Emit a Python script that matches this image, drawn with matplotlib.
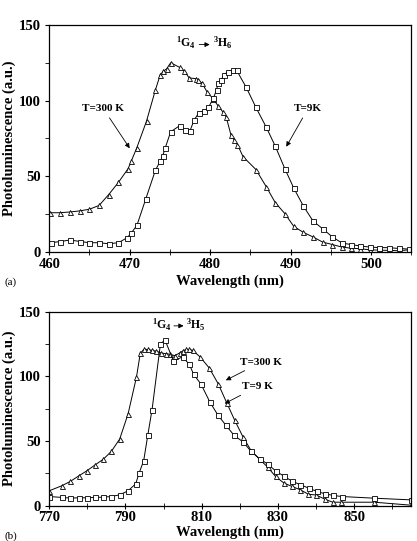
import numpy as np
import matplotlib
matplotlib.use("Agg")
import matplotlib.pyplot as plt
from matplotlib.ticker import MultipleLocator

plt.rcParams['font.family'] = 'Liberation Serif'
plt.rcParams['font.weight'] = 'bold'
plt.rcParams['mathtext.fontset'] = 'custom'
plt.rcParams['mathtext.rm'] = 'Liberation Serif:bold'
plt.rcParams['mathtext.it'] = 'Liberation Serif:bold'
plt.rcParams['mathtext.bf'] = 'Liberation Serif:bold'

# (a) 1G4 -> 3H6 band
wl_a_300 = [460.1, 461.3, 462.6, 463.8, 465.0, 466.2, 467.4, 468.6, 469.8, 470.2, 470.9,
            472.1, 473.2, 473.8, 474.2, 474.6, 475.1, 476.2, 476.8, 477.4, 478.2, 478.5,
            479.0, 479.6, 480.4, 481.0, 481.6, 482.0, 482.6, 483.0, 483.4, 484.1, 485.7,
            487.0, 488.1, 489.3, 490.4, 491.6, 492.8, 494.0, 495.2, 496.4, 497.5, 498.7,
            499.9, 501.1, 502.3, 503.5, 504.7]
pl_a_300 = [26, 26, 26.5, 27.2, 28.3, 30.8, 38, 46, 55, 60, 69,
            86.5, 107, 117, 119.5, 121, 125, 122, 119.5, 115, 114.5, 113.5,
            111.5, 106, 101, 96.5, 92.5, 89.3, 77.2, 74, 71, 63, 54.5,
            43, 32.7, 25.4, 17, 13, 10, 6.6, 5, 3.3, 2.6, 2.2,
            1.5, 1.3, 1.1, 0.9, 1.5]
wl_a_9 = [460.2, 461.4, 462.6, 463.8, 465.0, 466.2, 467.4, 468.6, 469.7, 470.2, 470.9,
          472.0, 473.2, 473.8, 474.1, 474.4, 475.1, 476.2, 476.9, 477.5, 478.0, 478.6,
          479.2, 479.8, 480.4, 480.8, 481.0, 481.4, 481.7, 482.2, 482.8, 483.3, 484.5,
          485.7, 487.0, 488.1, 489.3, 490.4, 491.6, 492.8, 494.0, 495.2, 496.4, 497.5,
          498.7, 499.9, 501.0, 502.3, 503.5, 504.7]
pl_a_9 = [6.2, 7, 8, 7, 6.2, 6.2, 5.5, 6.2, 9.5, 12.6, 17.6,
          35, 54, 60, 63.3, 68.4, 79.4, 83.4, 80.5, 80, 87, 92,
          93, 95.5, 101.5, 107, 111.4, 113.6, 117, 119, 120, 120, 108.7,
          95.5, 82.3, 70, 55, 42.3, 30.4, 20.5, 15.4, 10, 6, 5,
          4, 3.3, 3, 2.9, 2.4, 2]

# (b) 1G4 -> 3H5 band
wl_b_300 = [770.0, 773.3, 775.5, 777.7, 779.8, 782.0, 784.2, 786.3, 788.5, 790.7, 792.9,
            793.9, 794.8, 795.9, 797.0, 798.1, 799.4, 800.7, 801.7, 802.9, 804.2, 805.0,
            805.9, 806.8, 807.7, 809.6, 812.0, 814.4, 816.6, 818.7, 820.9, 823.0, 825.2,
            827.3, 829.4, 831.6, 833.7, 835.9, 838.0, 840.1, 842.3, 844.4, 846.6, 855.3,
            865.0]
pl_b_300 = [11.6, 15.5, 18.8, 23, 26.9, 31.5, 36, 42, 51.6, 71, 99.4,
            117.7, 120.8, 120.8, 120, 119.5, 118, 117.5, 117, 116, 118, 119.5,
            120.8, 120.8, 120, 115, 106.5, 94, 79.5, 66, 53, 42.6, 36,
            30, 22.7, 17.6, 15, 12.4, 9, 8.3, 5.2, 2.8, 2.8, 2.8,
            0.5]
wl_b_9 = [770.0, 773.3, 775.5, 777.7, 779.8, 782.0, 784.2, 786.3, 788.5, 790.7, 792.7,
          793.6, 794.8, 795.9, 797.0, 799.2, 800.4, 802.6, 805.0, 806.8, 807.9, 809.8,
          812.2, 814.3, 816.3, 818.5, 820.9, 823.0, 825.2, 827.3, 829.4, 831.7, 833.7,
          835.9, 838.1, 840.3, 842.4, 844.6, 846.8, 855.3, 865.0]
pl_b_9 = [7.2, 6.5, 6, 6.2, 6.2, 6.5, 6.7, 7.2, 8.5, 11.6, 17,
          25.3, 34.9, 55, 74.4, 125.2, 128, 112, 115, 109.2, 101.5, 94.2,
          80, 70, 62.5, 54.5, 49.3, 42, 36.4, 32.3, 27.1, 22.7, 19.1,
          16.3, 13.7, 11.1, 9.3, 8, 7.2, 5.9, 4.6]

ticks_a = [460, 470, 480, 490, 500]
ticks_b = [770, 790, 810, 830, 850]

fig = plt.figure(figsize=(4.17, 5.41), dpi=100)
ax1 = fig.add_axes([0.118, 0.534, 0.868, 0.42])
ax2 = fig.add_axes([0.118, 0.065, 0.868, 0.359])

mk = dict(color='black', lw=0.7, ms=3.6, mfc='white', mew=0.6)
ax1.plot(wl_a_300, pl_a_300, marker='^', **mk)
ax1.plot(wl_a_9, pl_a_9, marker='s', **mk)
ax2.plot(wl_b_300, pl_b_300, marker='^', **mk)
ax2.plot(wl_b_9, pl_b_9, marker='s', **mk)

ax1.set_xlim(460, 505)
ax1.set_xticks(ticks_a)
ax1.xaxis.set_minor_locator(MultipleLocator(5))
ax2.set_xlim(770, 865)
ax2.set_xticks(ticks_b)
ax2.set_xticks([780, 800, 820, 840, 860], minor=True)

for ax, lp in ((ax1, 3), (ax2, 0.5)):
    ax.set_ylim(0, 150)
    ax.yaxis.set_major_locator(MultipleLocator(50))
    ax.yaxis.set_minor_locator(MultipleLocator(25))
    ax.tick_params(axis='x', which='both', direction='inout', length=4, labelsize=10.5, pad=2)
    ax.tick_params(axis='y', which='both', direction='out', length=3, labelsize=10.5, pad=3)
    ax.set_xlabel('Wavelength (nm)', fontsize=10.5, fontweight='bold', labelpad=lp)
    ax.set_ylabel('Photoluminescence (a.u.)', fontsize=10.5, fontweight='bold', labelpad=2)
    for s in ax.spines.values():
        s.set_linewidth(0.9)

arrow = dict(arrowstyle='-|>', color='black', lw=0.6, mutation_scale=7)

# panel (a) annotations
ax1.annotate('T=300 K', xy=(470.2, 67), xytext=(466.7, 92), fontsize=8,
             ha='center', va='bottom', arrowprops=arrow)
ax1.annotate('T=9K', xy=(489.3, 68), xytext=(492.2, 92), fontsize=8,
             ha='center', va='bottom', arrowprops=arrow)
ax1.text(477.0, 138, '$^1$G$_4$', fontsize=8.5, ha='center', va='center')
ax1.annotate('', xy=(480.3, 137), xytext=(478.3, 137), arrowprops=arrow)
ax1.text(481.6, 138, '$^3$H$_6$', fontsize=8.5, ha='center', va='center')

# panel (b) annotations
ax2.annotate('T=300 K', xy=(815.7, 96), xytext=(825.7, 111), fontsize=8,
             ha='center', va='center', arrowprops=arrow)
ax2.annotate('T=9 K', xy=(815.4, 78), xytext=(824.6, 92), fontsize=8,
             ha='center', va='center', arrowprops=arrow)
ax2.text(799.5, 140, '$^1$G$_4$', fontsize=8.5, ha='center', va='center')
ax2.annotate('', xy=(806, 139), xytext=(802, 139), arrowprops=arrow)
ax2.text(808.4, 140, '$^3$H$_5$', fontsize=8.5, ha='center', va='center')

fig.text(0.01, 0.473, '(a)', fontsize=8, fontweight='normal')
fig.text(0.01, 0.004, '(b)', fontsize=8, fontweight='normal')

fig.savefig('out.png', dpi=100)
